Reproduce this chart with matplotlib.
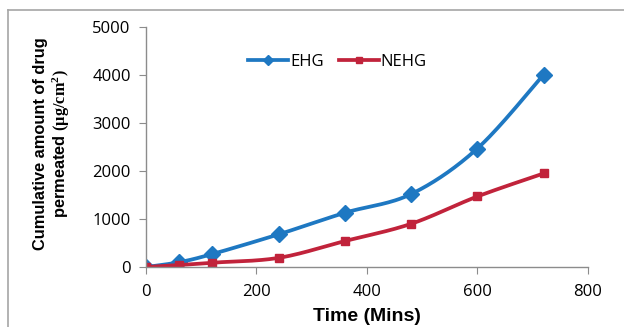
import numpy as np
import matplotlib.pyplot as plt
from matplotlib.lines import Line2D

# data
time = [0, 60, 120, 240, 360, 480, 600, 720]
ehg = [0, 100, 270, 680, 1130, 1520, 2470, 4010]
nehg = [0, 40, 90, 190, 540, 900, 1470, 1950]

blue = '#1e78c2'
red = '#c1233b'

plt.rcParams['mathtext.fontset'] = 'custom'
plt.rcParams['mathtext.bf'] = 'Liberation Serif:bold'
plt.rcParams['mathtext.rm'] = 'Liberation Serif'


def smooth(x, y, n=30):
    # catmull-rom style curve through the points (like excel smoothed lines)
    x = np.asarray(x, float)
    y = np.asarray(y, float)
    px = np.concatenate([[x[0]], x, [x[-1]]])
    py = np.concatenate([[y[0]], y, [y[-1]]])
    xs, ys = [], []
    t = np.linspace(0, 1, n)
    for i in range(1, len(px) - 2):
        p0, p1, p2, p3 = (np.array([px[j], py[j]]) for j in range(i - 1, i + 3))
        c1 = p1 + (p2 - p0) / 6
        c2 = p2 - (p3 - p1) / 6
        b = ((1 - t) ** 3)[:, None] * p1 + (3 * (1 - t) ** 2 * t)[:, None] * c1 \
            + (3 * (1 - t) * t ** 2)[:, None] * c2 + (t ** 3)[:, None] * p2
        xs.append(b[:, 0])
        ys.append(b[:, 1])
    return np.concatenate(xs), np.concatenate(ys)


fig = plt.figure(figsize=(6.24, 3.27), dpi=100)
ax = fig.add_axes([0.234, 0.1835, 0.708, 0.7335])

sx, sy = smooth(time, ehg)
ax.plot(sx, sy, color=blue, lw=2.7, solid_capstyle='round')
ax.plot(time, ehg, 'D', color=blue, ms=8)
sx, sy = smooth(time, nehg)
ax.plot(sx, sy, color=red, lw=2.7, solid_capstyle='round')
ax.plot(time, nehg, 's', color=red, ms=6)

ax.set_xlim(0, 800)
ax.set_ylim(0, 5000)
ax.set_xticks([0, 200, 400, 600, 800])
ax.set_yticks([0, 1000, 2000, 3000, 4000, 5000])
for s in ['top', 'right']:
    ax.spines[s].set_visible(False)
for s in ['left', 'bottom']:
    ax.spines[s].set_color('#8c8c8c')
    ax.spines[s].set_linewidth(1.0)
ax.tick_params(colors='#8c8c8c', length=5, labelcolor='black', labelsize=12)
ax.tick_params(axis='y', pad=6)
ax.tick_params(axis='x', pad=7)
for lab in ax.get_xticklabels() + ax.get_yticklabels():
    lab.set_family('Open Sans')

ax.set_xlabel('Time (Mins)', family='Liberation Sans', weight='bold', fontsize=14, labelpad=6)

fig.text(41 / 624, 0.56, 'Cumulative amount of drug', rotation=90, ha='center', va='center',
         family='Liberation Sans', weight='bold', fontsize=11.8)
fig.text(61 / 624, 0.56, r'permeated $\mathbf{(μg/cm^2)}$', rotation=90, ha='center', va='center',
         family='Liberation Sans', weight='bold', fontsize=11.8)

handles = [Line2D([], [], color=blue, lw=2.7, marker='D', ms=5.5),
           Line2D([], [], color=red, lw=2.7, marker='s', ms=4.5)]
leg = ax.legend(handles, ['EHG', 'NEHG'], loc='center', bbox_to_anchor=(0.433, 0.854),
                ncol=2, frameon=False, handlelength=2.4, handletextpad=0.1, columnspacing=0.9,
                borderaxespad=0, borderpad=0, prop={'family': 'Open Sans', 'size': 12})

# outer frame
fig.add_artist(Line2D([8 / 624, 1], [1 - 10 / 327, 1 - 10 / 327], color='#a6a6a6', lw=1.2,
                      transform=fig.transFigure))
fig.add_artist(Line2D([8 / 624, 8 / 624], [0, 1 - 10 / 327], color='#a6a6a6', lw=1.2,
                      transform=fig.transFigure))

fig.savefig('out.png', dpi=100)
